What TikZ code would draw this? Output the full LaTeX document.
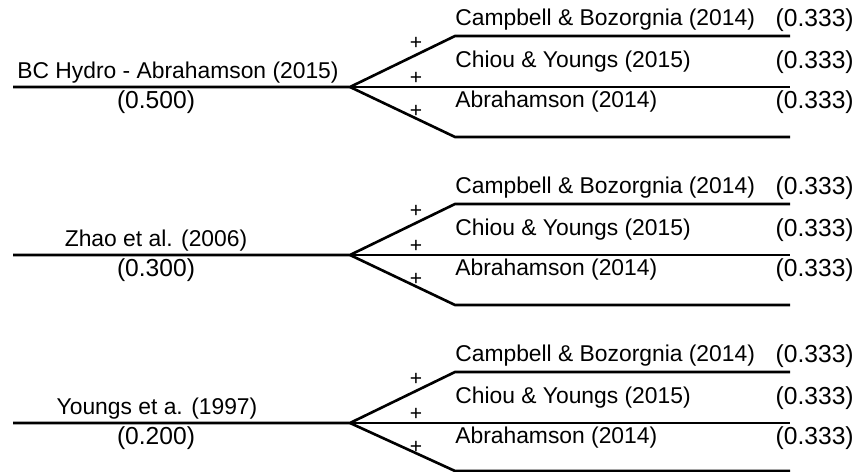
\documentclass[tikz,border=0pt]{standalone}
\usepackage{fontspec}
\setmainfont{Liberation Sans}
\tikzset{
    branch/.style={line width=1.5pt},
    lbl/.style={inner sep=0pt, font=\fontsize{13}{15}\selectfont},
    prob/.style={inner sep=0pt, font=\fontsize{14}{16}\selectfont},
    plus/.style={inner sep=0pt, font=\fontsize{12}{14}\selectfont},
}
\begin{document}
\begin{tikzpicture}[x=0.02cm, y=-0.02cm]
    \useasboundingbox (0,0) rectangle (860,472);
    % BC Hydro
    \begin{scope}
        \coordinate (s1) at (13,87);
        \coordinate (b1) at (350,87);
        \coordinate (t1) at (455,36);
        \coordinate (te1) at (790,36);
        \coordinate (me1) at (790,87);
        \coordinate (l1) at (455,137);
        \coordinate (le1) at (790,137);
        \draw[branch] (s1) -- (b1) -- (t1) -- (te1);
        \draw[branch] (b1) -- (me1);
        \draw[branch] (b1) -- (l1) -- (le1);
        \node[lbl] (gm1) at (178,73) {BC Hydro - Abrahamson (2015)};
        \node[prob] (gp1) at (156,102) {(0.500)};
        \node[plus] (pt1) at (416,43) {+};
        \node[plus] (pm1) at (416,78) {+};
        \node[plus] (pl1) at (416,111) {+};
        \node[lbl, anchor=west] (cb1) at (455,20) {Campbell \& Bozorgnia (2014)};
        \node[lbl, anchor=west] (cy1) at (455,62) {Chiou \& Youngs (2015)};
        \node[lbl, anchor=west] (ab1) at (455,102) {Abrahamson (2014)};
        \node[prob, anchor=east] (wcb1) at (854,20) {(0.333)};
        \node[prob, anchor=east] (wcy1) at (854,62) {(0.333)};
        \node[prob, anchor=east] (wab1) at (854,102) {(0.333)};
    \end{scope}
    % Zhao
    \begin{scope}[shift={(0,168)}]
        \coordinate (s2) at (13,87);
        \coordinate (b2) at (350,87);
        \coordinate (t2) at (455,36);
        \coordinate (te2) at (790,36);
        \coordinate (me2) at (790,87);
        \coordinate (l2) at (455,137);
        \coordinate (le2) at (790,137);
        \draw[branch] (s2) -- (b2) -- (t2) -- (te2);
        \draw[branch] (b2) -- (me2);
        \draw[branch] (b2) -- (l2) -- (le2);
        \node[lbl] (gm2) at (156,73) {Zhao et al. (2006)};
        \node[prob] (gp2) at (156,102) {(0.300)};
        \node[plus] (pt2) at (416,43) {+};
        \node[plus] (pm2) at (416,78) {+};
        \node[plus] (pl2) at (416,111) {+};
        \node[lbl, anchor=west] (cb2) at (455,20) {Campbell \& Bozorgnia (2014)};
        \node[lbl, anchor=west] (cy2) at (455,62) {Chiou \& Youngs (2015)};
        \node[lbl, anchor=west] (ab2) at (455,102) {Abrahamson (2014)};
        \node[prob, anchor=east] (wcb2) at (854,20) {(0.333)};
        \node[prob, anchor=east] (wcy2) at (854,62) {(0.333)};
        \node[prob, anchor=east] (wab2) at (854,102) {(0.333)};
    \end{scope}
    % Youngs
    \begin{scope}[shift={(0,336)}]
        \coordinate (s3) at (13,87);
        \coordinate (b3) at (350,87);
        \coordinate (t3) at (455,36);
        \coordinate (te3) at (790,36);
        \coordinate (me3) at (790,87);
        \coordinate (l3) at (455,135);
        \coordinate (le3) at (790,135);
        \draw[branch] (s3) -- (b3) -- (t3) -- (te3);
        \draw[branch] (b3) -- (me3);
        \draw[branch] (b3) -- (l3) -- (le3);
        \node[lbl] (gm3) at (157,73) {Youngs et a. (1997)};
        \node[prob] (gp3) at (156,102) {(0.200)};
        \node[plus] (pt3) at (416,43) {+};
        \node[plus] (pm3) at (416,78) {+};
        \node[plus] (pl3) at (416,111) {+};
        \node[lbl, anchor=west] (cb3) at (455,20) {Campbell \& Bozorgnia (2014)};
        \node[lbl, anchor=west] (cy3) at (455,62) {Chiou \& Youngs (2015)};
        \node[lbl, anchor=west] (ab3) at (455,102) {Abrahamson (2014)};
        \node[prob, anchor=east] (wcb3) at (854,20) {(0.333)};
        \node[prob, anchor=east] (wcy3) at (854,62) {(0.333)};
        \node[prob, anchor=east] (wab3) at (854,102) {(0.333)};
    \end{scope}
\end{tikzpicture}
\end{document}
